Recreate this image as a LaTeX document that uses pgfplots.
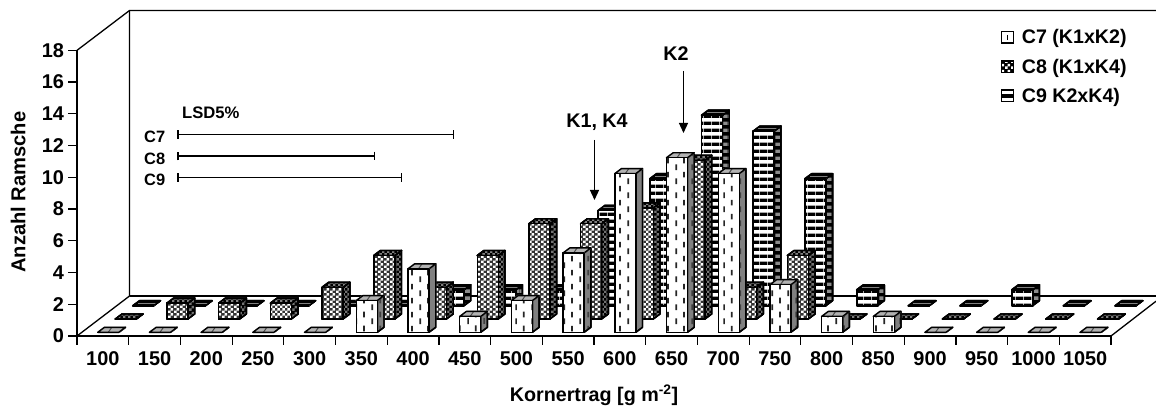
\documentclass[border=0pt]{standalone}
\usepackage{fontspec}
\setmainfont{Liberation Sans}
\usepackage{pgfplots}
\usepackage{pgfplotstable}
\pgfplotsset{compat=1.18}
\usetikzlibrary{patterns,arrows.meta}

\pgfdeclarepatternformonly{dashV}{\pgfpointorigin}{\pgfqpoint{16bp}{14bp}}{\pgfqpoint{16bp}{14bp}}{
  \pgfpathrectangle{\pgfqpoint{3.4bp}{1bp}}{\pgfqpoint{1.8bp}{6bp}}
  \pgfpathrectangle{\pgfqpoint{11.4bp}{8bp}}{\pgfqpoint{1.8bp}{6bp}}
  \pgfusepath{fill}}
\pgfdeclarepatternformonly{stripeH}{\pgfpointorigin}{\pgfqpoint{8bp}{7.3bp}}{\pgfqpoint{8bp}{7.3bp}}{
  \pgfpathrectangle{\pgfqpoint{0bp}{0bp}}{\pgfqpoint{8bp}{3.8bp}}
  \pgfusepath{fill}}
\pgfdeclarepatternformonly{dotQ}{\pgfpointorigin}{\pgfqpoint{5.4bp}{5.4bp}}{\pgfqpoint{5.4bp}{5.4bp}}{
  \pgfpathrectangle{\pgfqpoint{0bp}{0bp}}{\pgfqpoint{2.7bp}{2.7bp}}
  \pgfpathrectangle{\pgfqpoint{2.7bp}{2.7bp}}{\pgfqpoint{2.7bp}{2.7bp}}
  \pgfusepath{fill}}

% value tables: i = class index (100, 150, ... 1050), v = number of bulks
\pgfplotstableread{
i v
0 0
1 0
2 0
3 0
4 0
5 2
6 4
7 1
8 2
9 5
10 10
11 11
12 10
13 3
14 1
15 1
16 0
17 0
18 0
19 0
}\tableCseven
\pgfplotstableread{
i v
0 0
1 1
2 1
3 1
4 2
5 4
6 2
7 4
8 6
9 6
10 7
11 10
12 2
13 4
14 0
15 0
16 0
17 0
18 0
19 0
}\tableCeight
\pgfplotstableread{
i v
0 0
1 0
2 0
3 0
4 0
5 0
6 1
7 1
8 1
9 6
10 8
11 12
12 11
13 8
14 1
15 0
16 0
17 1
18 0
19 0
}\tableCnine

% 3D bar drawn at each data point: #1 dx, #2 dy of the front face, #3 front, #4 side, #5 top
\newcommand{\barthreeD}[5]{%
  \pgfmathsetlengthmacro{\hh}{\barval*15.87bp}%
  \def\dx{#1}\def\dy{#2}%
  \begin{scope}[line width=1.4bp,line join=round]
    #4
    #5
    #3
  \end{scope}}
\newcommand{\frontpath}{(\dx,\dy-\hh) rectangle (\dx+21bp,\dy)}
\newcommand{\sidepath}{(\dx+21bp,\dy-\hh) -- (\dx+27.7bp,\dy-\hh+5bp) -- (\dx+27.7bp,\dy+5bp) -- (\dx+21bp,\dy) -- cycle}
\newcommand{\toppath}{(\dx,\dy) -- (\dx+6.7bp,\dy+5bp) -- (\dx+27.7bp,\dy+5bp) -- (\dx+21bp,\dy) -- cycle}

\pgfdeclareplotmark{nothing}{}

\newcommand{\sideA}{%
  \fill[black!50] \sidepath;
  \fill[pattern=dashV,pattern color=black!75] \sidepath;
  \draw \sidepath;}
\newcommand{\topA}{%
  \fill[black!30] \toppath;
  \draw[line width=1bp,black!70] (\dx+10.5bp,\dy) -- (\dx+14bp,\dy+5bp);
  \draw \toppath;}
\newcommand{\sideB}{%
  \fill[black] \sidepath;
  \fill[pattern=dotQ,pattern color=black!55] \sidepath;
  \draw \sidepath;}
\newcommand{\topB}{%
  \fill[black] \toppath;
  \fill[pattern=dotQ,pattern color=black!50] \toppath;
  \draw \toppath;}
\newcommand{\sideC}{%
  \fill[black] \sidepath;
  \fill[pattern=stripeH,pattern color=black!45] \sidepath;
  \draw \sidepath;}
\newcommand{\topC}{%
  \fill[black] \toppath;
  \draw[line width=1bp,black!50] (\dx+5bp,\dy+2.5bp) -- (\dx+24bp,\dy+2.5bp);
  \draw \toppath;}
\newcommand{\frontA}{%
  \fill[white] \frontpath;
  \fill[pattern=dashV,pattern color=black!85] \frontpath;
  \draw \frontpath;}
\newcommand{\frontB}{%
  \fill[black!80] \frontpath;
  \fill[pattern=dotQ,pattern color=white] \frontpath;
  \draw \frontpath;}
\newcommand{\frontC}{%
  \fill[white] \frontpath;
  \fill[pattern=stripeH,pattern color=black] \frontpath;
  \draw[line width=1.8bp] \frontpath;}
\pgfplotsset{
  barA/.style={only marks, scatter, mark=nothing,
    visualization depends on={rawy \as \barval},
    scatter/@pre marker code/.code={\barthreeD{-5.05bp}{3.7bp}{\frontA}{\sideA}{\topA}},
    scatter/@post marker code/.code={},
    legend image code/.code={\fill[white] (0bp,-5.5bp) rectangle (12bp,6bp);
      \draw[line width=1.2bp] (0bp,-5.5bp) rectangle (12bp,6bp);
      \draw[line width=1.4bp] (6bp,-2.5bp) -- (6bp,3bp);
      \path (18bp,0bp);}},
  barB/.style={only marks, scatter, mark=nothing,
    visualization depends on={rawy \as \barval},
    scatter/@pre marker code/.code={\barthreeD{12.45bp}{17.03bp}{\frontB}{\sideB}{\topB}},
    scatter/@post marker code/.code={},
    legend image code/.code={\fill[black] (0bp,-5.5bp) rectangle (12bp,6bp);
      \fill[pattern=dotQ,pattern color=white] (0bp,-5.5bp) rectangle (12bp,6bp);
      \draw[line width=1.2bp] (0bp,-5.5bp) rectangle (12bp,6bp);
      \path (18bp,0bp);}},
  barC/.style={only marks, scatter, mark=nothing,
    visualization depends on={rawy \as \barval},
    scatter/@pre marker code/.code={\barthreeD{29.95bp}{30.36bp}{\frontC}{\sideC}{\topC}},
    scatter/@post marker code/.code={},
    legend image code/.code={\fill[white] (0bp,-5.5bp) rectangle (12bp,6bp);
      \fill[black] (0bp,-1.5bp) rectangle (12bp,2bp);
      \draw[line width=1.2bp] (0bp,-5.5bp) rectangle (12bp,6bp);
      \path (18bp,0bp);}},
}

\begin{document}
\begin{tikzpicture}[font=\bfseries\fontsize{20}{22}\selectfont]
\path[use as bounding box] (-77bp,-73bp) rectangle (1079bp,336bp);
\begin{axis}[
  at={(0,0)}, anchor=south west,
  x=51.7bp, y=15.87bp,
  xmin=0, xmax=20, ymin=0, ymax=18,
  clip=false,
  axis lines=left,
  axis line style={-,line width=1.3bp,black},
  tick style={line width=1.2bp,black},
  major tick length=8.5bp,
  tick align=outside,
  xtick={0,1,...,20},
  x tick label as interval,
  xticklabels={100,150,200,250,300,350,400,450,500,550,600,650,700,750,800,850,900,950,1000,1050},
  ytick={0,2,...,18},
  /pgf/number format/assume math mode=true,
  ticklabel style={font=\bfseries\fontsize{20}{22}\selectfont},
  xticklabel style={yshift=-4bp},
  yticklabel style={xshift=-1bp},
  xlabel={Kornertrag [g m\textsuperscript{-2}]},
  xlabel style={at={(axis cs:10,-3.72)},anchor=center,font=\bfseries\fontsize{19.8}{22}\selectfont},
  ylabel={Anzahl Ramsche},
  ylabel style={at={(axis cs:-1.14,9.07)},anchor=center,font=\bfseries\fontsize{20.2}{22}\selectfont},
  legend style={at={(axis cs:17.87,19.44)},anchor=north west,draw=none,fill=none,
    font=\bfseries\fontsize{19.7}{22}\selectfont,row sep=9.5bp,inner sep=0pt},
  legend cell align=left,
  reverse legend,
]
% walls and floor
\draw[line width=1.3bp] (axis cs:0,18) -- (axis cs:1.0155,20.51) -- (axis cs:20.87,20.51);
\draw[line width=1.3bp] (axis cs:1.0155,20.51) -- (axis cs:1.0155,2.52) -- (axis cs:0,0);
\draw[line width=1.6bp] (axis cs:1.0155,2.52) -- (axis cs:20.87,2.52);
\draw[line width=1.3bp] (axis cs:20,0) -- (axis cs:20.87,2.19);

\addplot[barC] table[x expr=\thisrow{i}+0.5,y=v] {\tableCnine};
\addlegendentry{C9 K2xK4)}
\addplot[barB] table[x expr=\thisrow{i}+0.5,y=v] {\tableCeight};
\addlegendentry{C8 (K1xK4)}
\addplot[barA] table[x expr=\thisrow{i}+0.5,y=v] {\tableCseven};
\addlegendentry{C7 (K1xK2)}
\end{axis}
% annotations: picture coordinates are (px-77, 336-py) in bp
\node[font=\bfseries\fontsize{16.7}{18}\selectfont,anchor=west,inner sep=0pt] at (105bp,223bp) {LSD5\%};
\begin{scope}[font=\bfseries\fontsize{16.5}{18}\selectfont]
\node[anchor=west,inner sep=0pt] at (67bp,199bp) {C7};
\node[anchor=west,inner sep=0pt] at (67bp,177bp) {C8};
\node[anchor=west,inner sep=0pt] at (67bp,156bp) {C9};
\end{scope}
\draw[line width=1.5bp,|-|] (100bp,201.5bp) -- (377bp,201.5bp);
\draw[line width=1.5bp,|-|] (100bp,180bp) -- (298bp,180bp);
\draw[line width=1.5bp,|-|] (100bp,158.5bp) -- (325bp,158.5bp);
\node[font=\bfseries\fontsize{19.8}{22}\selectfont] at (520bp,214bp) {K1, K4};
\node[font=\bfseries\fontsize{19.8}{22}\selectfont] at (599bp,282bp) {K2};
\draw[line width=1.3bp,-{Triangle[width=9bp,length=10bp]}] (517.5bp,196bp) -- (517.5bp,136bp);
\draw[line width=1.3bp,-{Triangle[width=9bp,length=10bp]}] (606.5bp,265bp) -- (606.5bp,203bp);
\end{tikzpicture}
\end{document}
